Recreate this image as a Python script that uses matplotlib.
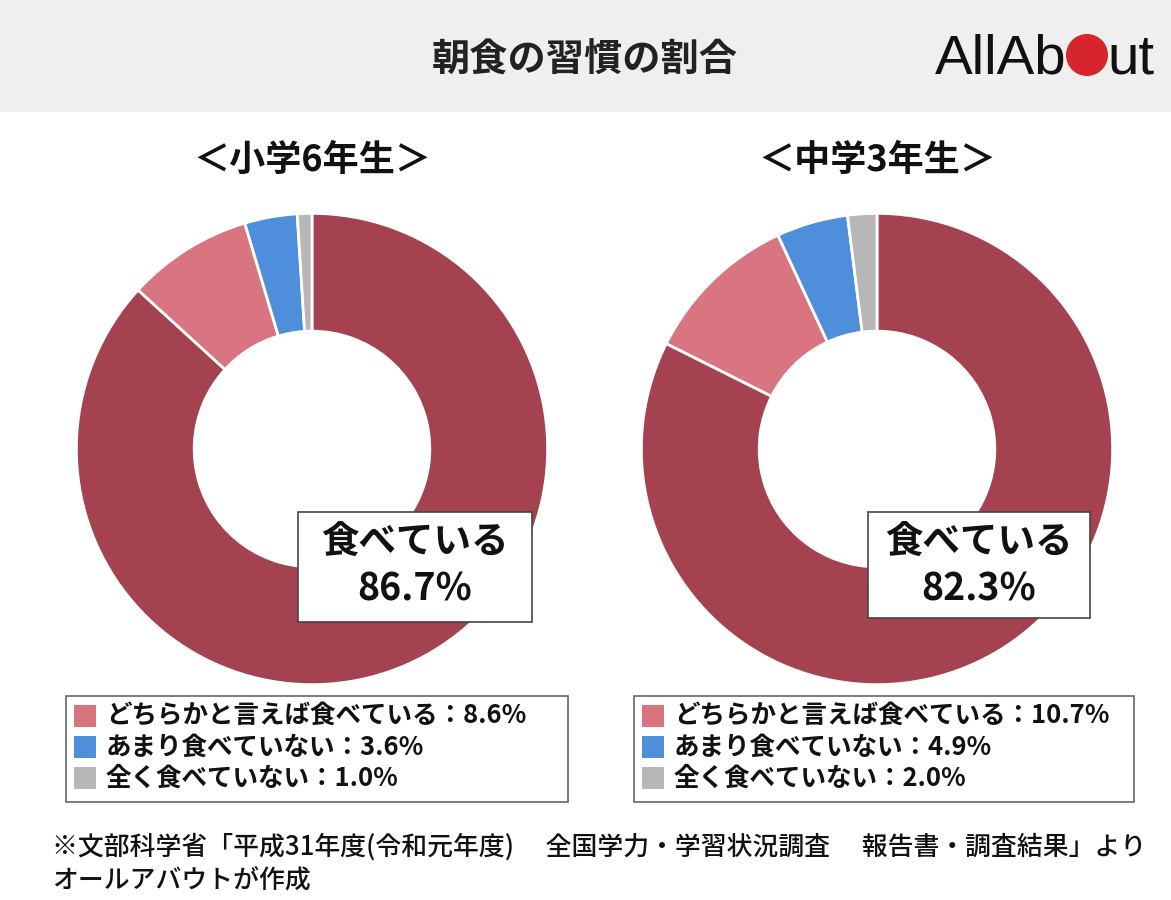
import matplotlib
matplotlib.use("Agg")
import matplotlib.pyplot as plt
from matplotlib.patches import Rectangle, Circle
from matplotlib import font_manager

plt.rcParams['font.family'] = ['Noto Sans CJK JP', 'DejaVu Sans']

# ---------------- data ----------------
title = "朝食の習慣の割合"
groups = ["＜小学6年生＞", "＜中学3年生＞"]
categories = ["食べている", "どちらかと言えば食べている", "あまり食べていない", "全く食べていない"]
values_elem = [86.7, 8.6, 3.6, 1.0]
values_junior = [82.3, 10.7, 4.9, 2.0]
colors = ["#A4434F", "#D87580", "#4F8EDB", "#B7B7B7"]
footnote = ["※文部科学省「平成31年度(令和元年度)　 全国学力・学習状況調査　 報告書・調査結果」より",
            "オールアバウトが作成"]

W, H = 1171, 900
fig = plt.figure(figsize=(W / 100, H / 100), dpi=100)
fig.patch.set_facecolor("white")


def px_axes(x0, y0, w, h, **kw):
    return fig.add_axes([x0 / W, 1 - (y0 + h) / H, w / W, h / H], **kw)


# overlay axes in pixel coords
ov = px_axes(0, 0, W, H, zorder=0)
ov.set_xlim(0, W)
ov.set_ylim(H, 0)
ov.axis("off")

# title band
ov.add_patch(Rectangle((0, 0), W, 112, facecolor="#EFEFEF", edgecolor="none"))
ov.text(585, 60, title, ha="center", va="center", fontsize=27.5, fontweight="bold", color="#222222")

# donuts
centers = [(312, 449), (877, 449)]
R = 238
datasets = [values_elem, values_junior]
for (cx, cy), vals, g in zip(centers, datasets, groups):
    ax = px_axes(cx - R, cy - R, 2 * R, 2 * R, zorder=1)
    ax.pie(vals, colors=colors, startangle=90, counterclock=False, radius=1,
           wedgeprops=dict(width=0.5, edgecolor="white", linewidth=2))
    ax.set_xlim(-1.01, 1.01)
    ax.set_ylim(-1.01, 1.01)
    ax.set_aspect("equal")
    ax.axis("off")
    ov.text(cx, 160, g, ha="center", va="center", fontsize=26, fontweight="bold", color="#111111")

# top overlay for boxes and legends
top = px_axes(0, 0, W, H, zorder=5)
top.set_xlim(0, W)
top.set_ylim(H, 0)
top.axis("off")
top.patch.set_alpha(0)

boxes = [(298, 512, 234, 110), (868, 512, 222, 106)]
for (bx, by, bw, bh), vals in zip(boxes, datasets):
    top.add_patch(Rectangle((bx, by), bw, bh, facecolor="white", edgecolor="#444444", linewidth=1.2))
    top.text(bx + bw / 2, by + 30, categories[0], ha="center", va="center",
             fontsize=27, fontweight="bold", color="#111111")
    top.text(bx + bw / 2, by + 77, f"{vals[0]:.1f}%", ha="center", va="center",
             fontsize=27, fontweight="bold", color="#111111")

# legends
legs = [(66, 696, 502, 106), (634, 696, 500, 106)]
for (lx, ly, lw, lh), vals in zip(legs, datasets):
    top.add_patch(Rectangle((lx, ly), lw, lh, facecolor="white", edgecolor="#666666", linewidth=1.2))
    for i in range(1, 4):
        yc = ly + 20 + (i - 1) * 31
        top.add_patch(Rectangle((lx + 8, yc - 11), 22, 22, facecolor=colors[i], edgecolor="none"))
        top.text(lx + 40, yc, f"{categories[i]}：{vals[i]:.1f}%", ha="left", va="center",
                 fontsize=18.4, fontweight="bold", color="#111111")

# footnote
top.text(52, 847, footnote[0], ha="left", va="center", fontsize=18.6, fontweight="medium", color="#111111")
top.text(52, 880, footnote[1], ha="left", va="center", fontsize=18.6, fontweight="medium", color="#111111")

# logo
fams = {f.name for f in font_manager.fontManager.ttflist}
logo_font = "Liberation Sans Narrow" if "Liberation Sans Narrow" in fams else "Liberation Sans"
t1 = top.text(1067, 53, "AllAb", ha="right", va="center_baseline", fontsize=44, family=logo_font,
              color="#111111")
t2 = top.text(1107, 53, "ut", ha="left", va="center_baseline", fontsize=44, family=logo_font,
              color="#111111")
r = fig.canvas.get_renderer()
wpx = t1.get_window_extent(r).width
scale = 132 / wpx
t1.set_fontsize(44 * scale)
t2.set_fontsize(44 * scale)
top.add_patch(Circle((1087, 55), 21, facecolor="#D7262B", edgecolor="none"))

fig.savefig("out.png", dpi=100, facecolor="white")
